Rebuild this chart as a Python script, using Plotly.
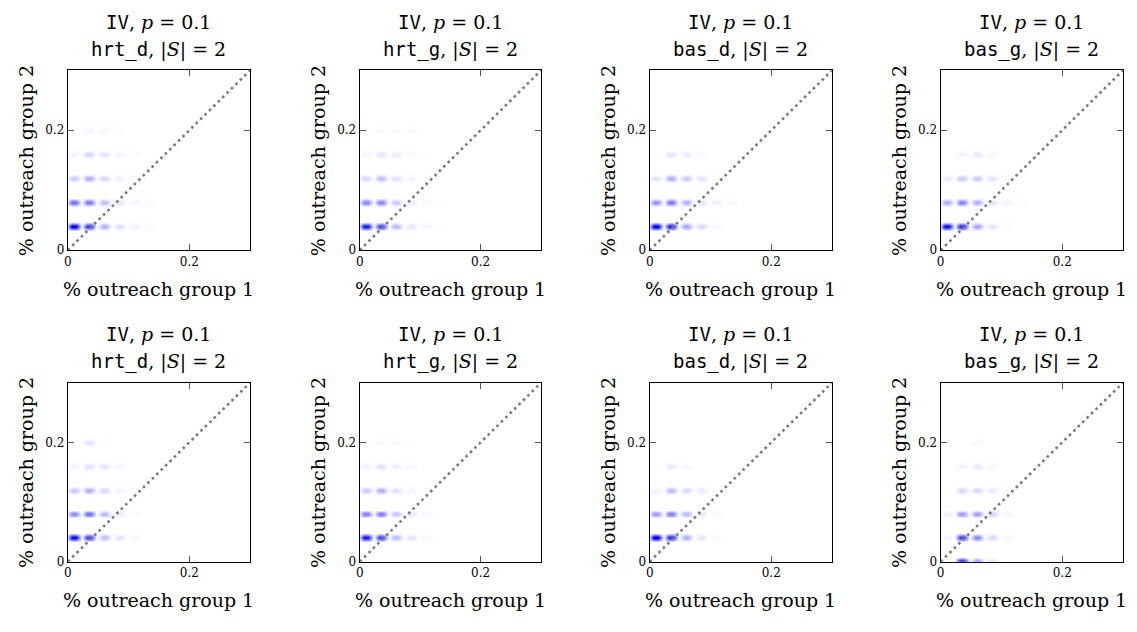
import plotly.graph_objects as go

# ---------------- data ----------------
x_centers = [0.01, 0.035, 0.06, 0.085, 0.11, 0.135]   # % outreach group 1 bins
y_centers = [0.0, 0.04, 0.08, 0.12, 0.16, 0.20]        # % outreach group 2 bins
tick_vals = [0, 0.2]
tick_text = ["0", "0.2"]
methods = ["hrt_d", "hrt_g", "bas_d", "bas_g", "hrt_d", "hrt_g", "bas_d", "bas_g"]

# relative density (rows follow y_centers, columns follow x_centers)
density_1 = [[0, 0, 0, 0, 0, 0],
             [1.00, 0.75, 0.30, 0.12, 0.05, 0.02],
             [0.55, 0.50, 0.25, 0.10, 0.04, 0.02],
             [0.20, 0.30, 0.15, 0.06, 0.03, 0.00],
             [0.05, 0.15, 0.10, 0.05, 0.02, 0.00],
             [0.00, 0.04, 0.03, 0.02, 0.00, 0.00]]
density_2 = [[0, 0, 0, 0, 0, 0],
             [0.90, 0.70, 0.25, 0.10, 0.04, 0.01],
             [0.45, 0.45, 0.20, 0.08, 0.03, 0.01],
             [0.15, 0.25, 0.12, 0.05, 0.02, 0.00],
             [0.04, 0.10, 0.07, 0.03, 0.01, 0.00],
             [0.00, 0.03, 0.03, 0.02, 0.00, 0.00]]
density_3 = [[0, 0, 0, 0, 0, 0],
             [1.00, 0.85, 0.35, 0.15, 0.03, 0.00],
             [0.40, 0.50, 0.30, 0.10, 0.05, 0.02],
             [0.10, 0.30, 0.20, 0.10, 0.02, 0.00],
             [0.00, 0.10, 0.08, 0.03, 0.00, 0.00],
             [0.00, 0.00, 0.00, 0.00, 0.00, 0.00]]
density_4 = [[0, 0, 0, 0, 0, 0],
             [0.95, 0.80, 0.35, 0.10, 0.02, 0.00],
             [0.30, 0.45, 0.30, 0.10, 0.05, 0.02],
             [0.08, 0.20, 0.20, 0.10, 0.02, 0.00],
             [0.00, 0.05, 0.08, 0.03, 0.00, 0.00],
             [0.00, 0.00, 0.00, 0.00, 0.00, 0.00]]
density_5 = [[0, 0, 0, 0, 0, 0],
             [0.95, 0.70, 0.25, 0.10, 0.03, 0.00],
             [0.40, 0.50, 0.25, 0.08, 0.02, 0.00],
             [0.20, 0.30, 0.15, 0.05, 0.02, 0.00],
             [0.05, 0.12, 0.10, 0.04, 0.00, 0.00],
             [0.00, 0.10, 0.02, 0.00, 0.00, 0.00]]
density_6 = [[0, 0, 0, 0, 0, 0],
             [0.90, 0.70, 0.25, 0.10, 0.03, 0.00],
             [0.45, 0.45, 0.20, 0.08, 0.03, 0.00],
             [0.20, 0.30, 0.12, 0.05, 0.02, 0.00],
             [0.05, 0.12, 0.06, 0.03, 0.00, 0.00],
             [0.00, 0.03, 0.02, 0.01, 0.00, 0.00]]
density_7 = [[0, 0, 0, 0, 0, 0],
             [1.00, 0.80, 0.30, 0.10, 0.02, 0.00],
             [0.35, 0.45, 0.25, 0.08, 0.03, 0.00],
             [0.05, 0.25, 0.15, 0.08, 0.00, 0.00],
             [0.00, 0.08, 0.03, 0.00, 0.00, 0.00],
             [0.00, 0.00, 0.00, 0.00, 0.00, 0.00]]
density_8 = [[0.00, 0.90, 0.40, 0.10, 0.00, 0.00],
             [0.05, 0.70, 0.45, 0.15, 0.03, 0.00],
             [0.05, 0.35, 0.35, 0.15, 0.04, 0.00],
             [0.00, 0.15, 0.15, 0.08, 0.02, 0.00],
             [0.00, 0.05, 0.08, 0.03, 0.00, 0.00],
             [0.00, 0.00, 0.03, 0.00, 0.00, 0.00]]
densities = [density_1, density_2, density_3, density_4,
             density_5, density_6, density_7, density_8]

# ---------------- layout geometry ----------------
OFF = 8                      # browser default body margin
W, H = 1137 - 2 * OFF, 632 - 2 * OFF
col_px = [(64, 247), (357, 539), (648, 831), (940, 1123)]
row_px = [(71, 253), (387, 568)]
SERIF = "DejaVu Serif"
MONO = "DejaVu Sans Mono"
# blob shape: flat core half-width, outer half-width (data units)
CORE_X, EDGE_X = 0.003, 0.0124
CORE_Y, EDGE_Y = 0.001, 0.0075


def px_x(p):
    return (p - OFF) / W


def px_y(p):
    return 1 - (p - OFF) / H


def expand(centers, core, edge):
    pos, idx = [], []
    for k, c in enumerate(centers):
        pos += [c - edge, c - core, c, c + core, c + edge]
        idx += [None, k, k, k, None]
    return pos, idx


fig = go.Figure()
layout = dict(width=W, height=H, margin=dict(l=0, r=0, t=0, b=0),
              paper_bgcolor="white", plot_bgcolor="white", showlegend=False)
annotations = []
title_font = dict(family=SERIF, size=19, color="black")

for i, dens in enumerate(densities):
    r, c = divmod(i, 4)
    x0, x1 = col_px[c]
    y0, y1 = row_px[r]
    n = i + 1
    xa = "x" if n == 1 else f"x{n}"
    ya = "y" if n == 1 else f"y{n}"
    xkey = "xaxis" if n == 1 else f"xaxis{n}"
    ykey = "yaxis" if n == 1 else f"yaxis{n}"

    # expand grid so each bin renders as an isolated smooth blob
    xs, xi = expand(x_centers, CORE_X, EDGE_X)
    ys, yi = expand(y_centers, CORE_Y, EDGE_Y)
    z = [[(dens[ry][cx] if (ry is not None and cx is not None) else 0.0) for cx in xi]
         for ry in yi]

    fig.add_trace(go.Heatmap(x=xs, y=ys, z=z, zmin=0, zmax=1, zsmooth="best",
                             colorscale=[[0, "#ffffff"], [0.5, "#7878ff"], [1, "#0000d8"]],
                             showscale=False, hoverinfo="skip",
                             xaxis=xa, yaxis=ya))
    fig.add_trace(go.Scatter(x=[0, 0.3], y=[0, 0.3], mode="lines",
                             line=dict(color="#7a7a7a", width=2.6, dash="2.6px,3.6px"),
                             hoverinfo="skip", xaxis=xa, yaxis=ya))

    common = dict(range=[0, 0.3], tickvals=tick_vals, ticktext=tick_text,
                  ticks="inside", ticklen=6, tickcolor="#555555", tickwidth=1,
                  showline=True, linecolor="black", linewidth=1.2, mirror="ticks",
                  showgrid=False, zeroline=False,
                  tickfont=dict(family=SERIF, size=12, color="black"))
    layout[xkey] = dict(common, domain=[px_x(x0), px_x(x1)], anchor=ya)
    layout[ykey] = dict(common, domain=[px_y(y1), px_y(y0)], anchor=xa)

    cx_paper = px_x((x0 + x1) / 2)
    annotations.append(dict(
        text=f"<span style='font-family:{MONO}'>IV</span>, <i>p</i> = 0.1",
        x=cx_paper, y=px_y(y0 - 49), xref="paper", yref="paper",
        xanchor="center", yanchor="middle", showarrow=False, font=title_font))
    annotations.append(dict(
        text=f"<span style='font-family:{MONO}'>{methods[i]}</span>, |<i>S</i>| = 2",
        x=cx_paper, y=px_y(y0 - 21), xref="paper", yref="paper",
        xanchor="center", yanchor="middle", showarrow=False, font=title_font))
    annotations.append(dict(
        text="% outreach group 1",
        x=cx_paper, y=px_y(y1 + 39), xref="paper", yref="paper",
        xanchor="center", yanchor="middle", showarrow=False, font=title_font))
    annotations.append(dict(
        text="% outreach group 2", textangle=-90,
        x=px_x(x0 - 42), y=px_y((y0 + y1) / 2), xref="paper", yref="paper",
        xanchor="center", yanchor="middle", showarrow=False, font=title_font))

layout["annotations"] = annotations
fig.update_layout(**layout)
fig.write_html("out.html", config={"displayModeBar": False})
